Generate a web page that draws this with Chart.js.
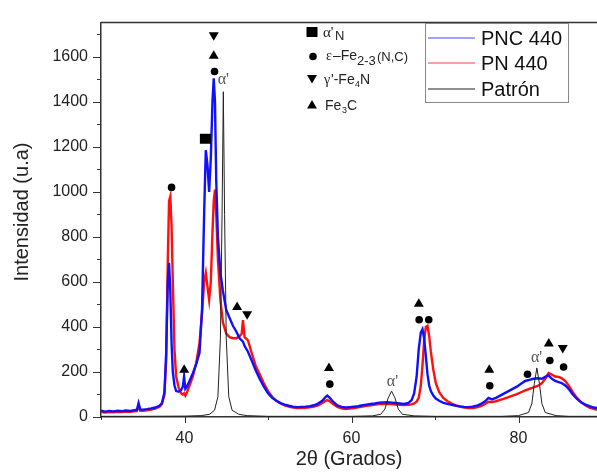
<!DOCTYPE html>
<html>
<head>
<meta charset="utf-8">
<script src="https://cdn.jsdelivr.net/npm/chart.js@4.4.1/dist/chart.umd.min.js"></script>
<style>
  html, body { margin: 0; padding: 0; background: #fff; }
  #wrap { width: 597px; height: 472px; }
</style>
</head>
<body>
<div id="wrap"><canvas id="xrd" width="597" height="472"></canvas></div>
<script>
// 2θ (grados) para las muestras PNC 440 y PN 440
const angles = [
  30, 30.5, 31, 31.5, 32, 32.5, 33, 33.5, 34, 34.3,
  34.5, 34.7, 35, 35.5, 36, 36.5, 37, 37.3, 37.6, 37.8,
  38.0, 38.15, 38.3, 38.45, 38.6, 38.8, 39.0, 39.3, 39.6, 39.8,
  39.95, 40.1, 40.3, 40.6, 41.0, 41.4, 41.8, 42.1, 42.35, 42.55,
  42.75, 42.95, 43.15, 43.35, 43.5, 43.65, 43.8, 44.0, 44.3, 44.6,
  45.0, 45.4, 45.8, 46.2, 46.6, 46.85, 47.0, 47.2, 47.6, 48.0,
  48.5, 49.0, 49.5, 50.0, 50.5, 51.0, 51.5, 52, 52.5, 53,
  53.5, 54, 54.5, 55, 55.5, 56, 56.5, 56.8, 57.1, 57.4,
  57.8, 58.3, 58.8, 59.3, 59.8, 60.3, 60.8, 61.3, 61.8, 62.3,
  62.8, 63.3, 63.8, 64.3, 64.8, 65.3, 65.8, 66.3, 66.8, 67.2,
  67.5, 67.8, 68.05, 68.3, 68.5, 68.7, 68.9, 69.1, 69.3, 69.5,
  69.8, 70.1, 70.5, 71.0, 71.5, 72, 72.5, 73, 73.5, 74,
  74.5, 75, 75.5, 76, 76.4, 76.8, 77.3, 77.8, 78.3, 78.8,
  79.3, 79.8, 80.3, 80.8, 81.3, 81.8, 82.3, 82.8, 83.2, 83.6,
  84.0, 84.4, 84.8, 85.2, 85.6, 86.0, 86.5, 87.0, 87.5, 88.0,
  88.5, 89.0, 89.4
];
const pnc440 = [
  28, 24, 27, 25, 28, 26, 29, 27, 30, 32,
  62, 34, 33, 35, 38, 42, 50, 62, 110, 280,
  600, 685, 560, 330, 200, 140, 115, 112, 120, 135,
  180, 125, 135, 160, 195, 235, 285, 480, 900, 1185,
  1120, 1000, 1150, 1400, 1505, 1400, 1050, 800, 640, 560,
  475, 440, 405, 380, 350, 340, 335, 315, 290, 255,
  210, 170, 135, 105, 85, 72, 62, 55, 50, 46,
  44, 45, 46, 48, 52, 60, 72, 85, 95, 85,
  68, 52, 45, 42, 44, 46, 48, 52, 55, 58,
  60, 64, 65, 66, 64, 62, 60, 58, 62, 75,
  105, 180, 300, 375, 390, 350, 270, 190, 140, 115,
  95, 82, 72, 63, 58, 54, 50, 47, 45, 44,
  46, 50, 58, 70, 85, 78, 85, 95, 105, 115,
  125, 135, 148, 160, 165, 170, 172, 170, 178, 185,
  170, 160, 155, 150, 140, 125, 100, 80, 65, 55,
  48, 42, 40
];
const pn440 = [
  22, 20, 22, 21, 23, 22, 24, 23, 25, 26,
  50, 28, 28, 30, 33, 37, 45, 58, 100, 250,
  700, 960, 980, 850, 600, 300, 180, 130, 105, 100,
  105, 95, 110, 140, 180, 240, 330, 460, 600, 640,
  580, 520, 600, 820, 960, 1010, 900, 700, 520, 420,
  370, 355, 350, 350, 360, 370, 430, 355, 340, 290,
  230, 190, 150, 115, 90, 72, 60, 52, 46, 42,
  40, 40, 41, 43, 46, 52, 62, 70, 75, 70,
  58, 45, 38, 35, 37, 40, 43, 46, 50, 52,
  55, 57, 58, 58, 57, 55, 54, 53, 54, 56,
  60, 68, 85, 140, 230, 340, 400, 405, 360, 290,
  210, 150, 110, 85, 70, 60, 52, 46, 42, 40,
  40, 43, 48, 58, 68, 66, 70, 76, 82, 88,
  95, 102, 110, 118, 125, 132, 138, 150, 170, 195,
  188, 180, 178, 172, 160, 140, 110, 85, 65, 52,
  42, 36, 32
];
// patrón (referencia)
const patronAngles = [30, 35, 40, 42, 43, 43.6, 44.0, 44.3, 44.5, 44.65, 44.8, 45.0, 45.3, 45.7, 46.5, 47.5, 50, 60,
  62.5, 63.5, 64.0, 64.4, 64.8, 65.2, 65.6, 66.1, 67.5, 70, 78, 80, 81.2, 81.6, 81.9, 82.2, 82.5, 82.8, 83.2, 84.5, 86, 89.4];
const patron = [3, 3, 4, 6, 12, 30, 90, 350, 900, 1445, 900, 350, 90, 30, 12, 6, 3, 3,
  5, 12, 35, 85, 115, 85, 35, 12, 5, 3, 3, 6, 20, 60, 150, 218, 150, 60, 20, 6, 3, 3];

const xTicks = [40, 60, 80];
const yTicks = [0, 200, 400, 600, 800, 1000, 1200, 1400, 1600];

// identificación de fases: [símbolo, 2θ, intensidad]
const phaseMarks = [
  ['circle', 38.45, 1020], ['square', 42.5, 1236], ['circle', 43.6, 1535], ['up', 43.5, 1609], ['down', 43.5, 1691],
  ['up', 39.96, 214], ['up', 46.3, 493], ['down', 47.5, 452],
  ['up', 57.3, 222], ['circle', 57.4, 146],
  ['up', 68.06, 507], ['circle', 68.1, 432], ['circle', 69.25, 432],
  ['up', 76.5, 214], ['circle', 76.56, 139],
  ['circle', 81.08, 190],
  ['up', 83.63, 331], ['circle', 83.75, 251],
  ['down', 85.3, 302], ['circle', 85.4, 222]
];
const alphaLabels = [[44.65, 1496], [64.9, 157], [82.16, 262]];

const SANS = '"Liberation Sans", Arial, sans-serif';
const SERIF = '"Liberation Serif", "Times New Roman", serif';

function drawMark(ctx, kind, x, y) {
  ctx.beginPath();
  if (kind === 'circle') {
    ctx.arc(x, y, 3.8, 0, Math.PI * 2);
  } else if (kind === 'square') {
    ctx.rect(x - 5.5, y - 5, 11, 10);
  } else if (kind === 'up') {
    ctx.moveTo(x, y - 4.5); ctx.lineTo(x + 5, y + 4); ctx.lineTo(x - 5, y + 4);
  } else {
    ctx.moveTo(x - 5, y - 4); ctx.lineTo(x + 5, y - 4); ctx.lineTo(x, y + 4.5);
  }
  ctx.closePath();
  ctx.fill();
}

const decor = {
  id: 'decor',
  afterDraw(chart) {
    const ctx = chart.ctx, a = chart.chartArea;
    const xs = chart.scales.x, ys = chart.scales.y;
    ctx.save();
    // marco superior
    ctx.strokeStyle = '#333';
    ctx.lineWidth = 1.5;
    ctx.beginPath(); ctx.moveTo(a.left, a.top); ctx.lineTo(a.right, a.top); ctx.stroke();
    // marcas de los ejes
    ctx.lineWidth = 1;
    ctx.beginPath();
    for (let v = 30; v <= 90; v += 10) {
      const px = Math.round(xs.getPixelForValue(v)) + 0.5;
      if (px > a.right) continue;
      const len = v % 20 === 0 ? 6 : 3;
      ctx.moveTo(px, a.bottom); ctx.lineTo(px, a.bottom + len);
    }
    for (let v = 0; v <= 1700; v += 100) {
      const py = Math.round(ys.getPixelForValue(v)) + 0.5;
      const len = v % 200 === 0 ? 8 : 4;
      ctx.moveTo(a.left, py); ctx.lineTo(a.left - len, py);
    }
    ctx.stroke();

    // símbolos de fases
    ctx.fillStyle = '#000';
    phaseMarks.forEach(([k, x, y]) => drawMark(ctx, k, xs.getPixelForValue(x), ys.getPixelForValue(y)));
    ctx.fillStyle = '#555';
    ctx.font = '16px ' + SERIF;
    ctx.textAlign = 'center';
    ctx.textBaseline = 'middle';
    alphaLabels.forEach(([x, y]) => ctx.fillText("α'", xs.getPixelForValue(x), ys.getPixelForValue(y)));

    // clave de fases
    ctx.fillStyle = '#000';
    drawMark(ctx, 'square', 312, 32);
    drawMark(ctx, 'circle', 313, 56.5);
    drawMark(ctx, 'down', 312, 79);
    drawMark(ctx, 'up', 312, 104.5);
    ctx.textAlign = 'left';
    ctx.textBaseline = 'alphabetic';
    ctx.fillStyle = '#222';
    ctx.font = '15px ' + SERIF;
    ctx.fillText("α'", 323, 37);
    ctx.font = '13px ' + SANS;
    ctx.fillText('N', 335, 40);
    ctx.font = '14px ' + SERIF;
    ctx.fillText('ε', 326, 60);
    ctx.font = '14px ' + SANS;
    ctx.fillText('–Fe', 333, 60);
    ctx.font = '13px ' + SANS;
    ctx.fillText('2-3', 357, 65);
    ctx.fillText('(N,C)', 377, 61);
    ctx.font = '14px ' + SERIF;
    ctx.fillText('γ', 324, 84);
    ctx.font = '14px ' + SANS;
    ctx.fillText("'-Fe", 331, 84);
    ctx.font = '9px ' + SANS;
    ctx.fillText('4', 355, 87);
    ctx.font = '14px ' + SANS;
    ctx.fillText('N', 360, 84);
    ctx.fillText('Fe', 325, 110);
    ctx.font = '9px ' + SANS;
    ctx.fillText('3', 342, 113);
    ctx.font = '14px ' + SANS;
    ctx.fillText('C', 347, 110);

    // leyenda
    ctx.strokeStyle = '#888';
    ctx.lineWidth = 1;
    ctx.strokeRect(425.5, 23.5, 143, 79);
    const rows = [['PNC 440', '#a0a0ff', 38], ['PN 440', '#ffa0a0', 63], ['Patrón', '#909090', 89]];
    ctx.font = '20px ' + SANS;
    ctx.textBaseline = 'middle';
    rows.forEach(([t, c, y]) => {
      ctx.strokeStyle = c; ctx.lineWidth = 2;
      ctx.beginPath(); ctx.moveTo(428, y); ctx.lineTo(475, y); ctx.stroke();
      ctx.fillStyle = '#111';
      ctx.fillText(t, 481, y + 1);
    });

    // títulos de ejes
    ctx.fillStyle = '#222';
    ctx.font = '20px ' + SANS;
    ctx.textAlign = 'center';
    ctx.fillText('2θ (Grados)', (a.left + a.right) / 2, 459);
    ctx.translate(22, 212);
    ctx.rotate(-Math.PI / 2);
    ctx.fillText('Intensidad (u.a)', 0, 0);
    ctx.restore();
  }
};

function series(xv, yv) { return xv.map((x, i) => ({ x: x, y: yv[i] })); }

new Chart(document.getElementById('xrd'), {
  type: 'line',
  data: {
    datasets: [
      { label: 'Patrón', data: series(patronAngles, patron), borderColor: '#222', borderWidth: 1, order: 0 },
      { label: 'PNC 440', data: series(angles, pnc440), borderColor: '#1010ff', borderWidth: 2.4, order: 1 },
      { label: 'PN 440', data: series(angles, pn440), borderColor: '#ff1010', borderWidth: 2.4, order: 2 }
    ]
  },
  options: {
    responsive: false,
    animation: false,
    layout: { padding: { top: 13, right: 0, left: 0, bottom: 0 } },
    elements: { point: { radius: 0 }, line: { tension: 0 } },
    plugins: { legend: { display: false }, tooltip: { enabled: false } },
    scales: {
      x: {
        type: 'linear', min: 30, max: 89.4,
        grid: { display: false, drawTicks: false },
        border: { display: true, color: '#333', width: 1.5 },
        afterBuildTicks: s => { s.ticks = xTicks.map(v => ({ value: v })); },
        afterFit: s => { s.height = 55; },
        ticks: { padding: 12, color: '#222', font: { family: SANS, size: 16 }, callback: v => String(v) }
      },
      y: {
        type: 'linear', min: 0, max: 1752,
        grid: { display: false, drawTicks: false },
        border: { display: true, color: '#333', width: 1.5 },
        afterBuildTicks: s => { s.ticks = yTicks.map(v => ({ value: v })); },
        afterFit: s => { s.width = 101; },
        ticks: { padding: 13, color: '#222', font: { family: SANS, size: 16 }, callback: v => String(v) }
      }
    }
  },
  plugins: [decor]
});
</script>
</body>
</html>
